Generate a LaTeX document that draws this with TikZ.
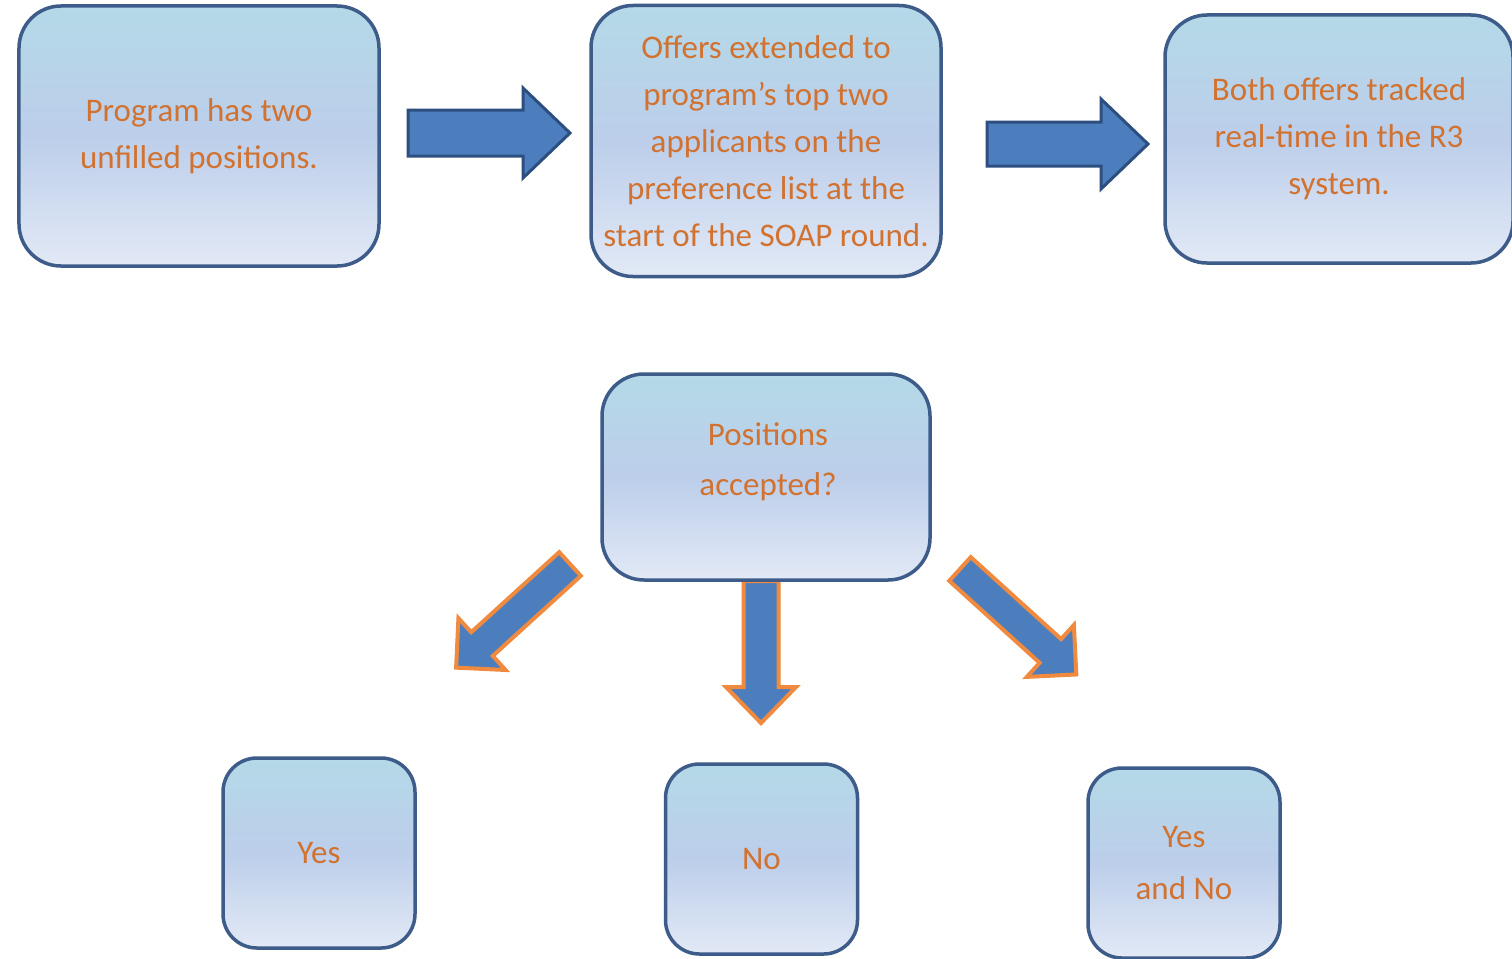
\documentclass[tikz,border=0pt]{standalone}
\usepackage{fontspec}
\setmainfont{Carlito}
\definecolor{boxline}{RGB}{62,92,138}
\definecolor{txt}{RGB}{209,114,48}
\definecolor{afill}{RGB}{76,126,190}
\definecolor{aline}{RGB}{44,79,128}
\definecolor{oline}{RGB}{240,138,62}
\definecolor{gtop}{RGB}{180,217,232}
\definecolor{gmid}{RGB}{188,206,234}
\definecolor{gbot}{RGB}{226,233,246}
\tikzset{
  box/.style={draw=boxline, line width=3.5bp, rounded corners=42bp,
    top color=gtop, bottom color=gbot, middle color=gmid,
    text=txt, align=center, inner sep=0pt,
    font=\fontsize{33bp}{47bp}\selectfont},
  smallbox/.style={box, rounded corners=34bp, minimum width=192bp, minimum height=190bp},
  toparrow/.style={fill=afill, draw=aline, line width=3bp},
  botarrow/.style={fill=afill, draw=oline, line width=4bp},
}
% style, x, y, angle, length, shaft half width, head half width, head length
\newcommand\blkarrow[8]{%
  \begin{scope}[shift={(#2,#3)},rotate=#4]
    \draw[#1] (0,-#6) -- ({#5-#8},-#6) -- ({#5-#8},-#7) -- (#5,0)
      -- ({#5-#8},#7) -- ({#5-#8},#6) -- (0,#6) -- cycle;
  \end{scope}}
\begin{document}
\begin{tikzpicture}[x=1bp,y=-1bp]
\clip (0,0) rectangle (1512,958);
\fill[white] (0,0) rectangle (1512,958);
% block arrows
\blkarrow{toparrow}{408}{133}{0}{162}{23}{45}{47}
\blkarrow{toparrow}{987}{144}{0}{161}{22}{45}{47}
\blkarrow{botarrow}{761}{581}{-90}{142}{17.5}{35}{36}
\blkarrow{botarrow}{570}{564}{-137.7}{154}{16}{35}{35}
\blkarrow{botarrow}{960}{569}{-42.2}{157}{16}{35}{35}
% boxes
\node[box, minimum width=360bp, minimum height=260bp] (b1) at (199,136)
  {Program has two\\unfilled positions.};
\node[box, minimum width=350bp, minimum height=271bp] (b2) at (766,141)
  {Offers extended to\\program’s top two\\applicants on the\\preference list at the\\start of the SOAP round.};
\node[box, minimum width=348bp, minimum height=248bp] (b3) at (1339,139)
  {Both offers tracked\\real-time in the R3\\system.};
\node[box, minimum width=328bp, minimum height=206bp] (q) at (766,477) {};
\node[text=txt, align=center, font=\fontsize{33bp}{50bp}\selectfont] (qt) at (768,462)
  {Positions\\accepted?};
\node[smallbox] (yes) at (319,853) {Yes};
\node[smallbox] (no) at (761.5,859) {No};
\node[smallbox, font=\fontsize{33bp}{52bp}\selectfont] (yn) at (1184,863) {Yes\\and No};
\end{tikzpicture}
\end{document}
